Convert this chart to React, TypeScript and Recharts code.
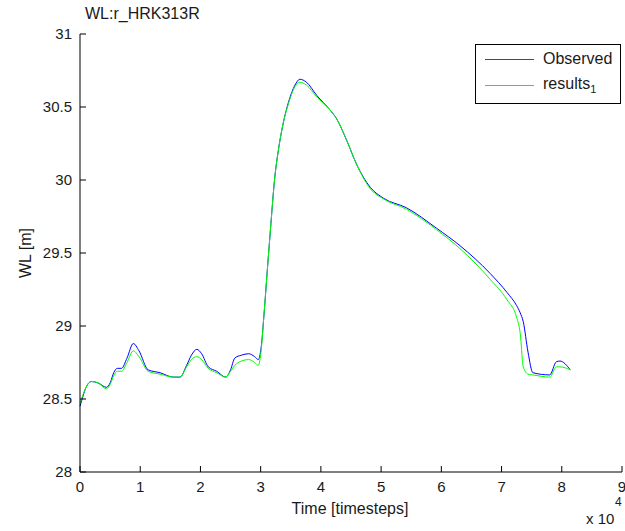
import { LineChart, Line, XAxis, YAxis } from 'recharts'

// time in timesteps (axis shows x 10^4)
const time = [
  0, 500, 1000, 1900, 3000, 4400, 5000, 5600, 6200, 6900, 7800, 8850, 9800, 11300, 13300, 15500,
  16600, 17700, 18500, 19400, 20200, 21300, 22700, 24200, 25000, 25700, 26800, 28000, 29000, 29600,
  30100, 30500, 31100, 31700, 32300, 33000, 33800, 34600, 35700, 36500, 37600, 39300, 41500, 42600,
  44300, 45900, 48200, 50400, 54200, 59200, 63100, 68100, 70900, 72500, 73100, 73600, 74400, 75200,
  78000, 79100, 79700, 81400,
]

const observed = [
  28.45, 28.52, 28.58, 28.62, 28.61, 28.58, 28.61, 28.68, 28.71, 28.71, 28.78, 28.88, 28.83, 28.7,
  28.68, 28.65, 28.65, 28.73, 28.8, 28.84, 28.81, 28.72, 28.69, 28.65, 28.7, 28.78, 28.8, 28.81,
  28.79, 28.77, 28.86, 29.05, 29.38, 29.7, 30.0, 30.22, 30.4, 30.53, 30.65, 30.69, 30.67, 30.58,
  30.48, 30.42, 30.27, 30.11, 29.95, 29.875, 29.81, 29.67, 29.55, 29.36, 29.23, 29.14, 29.09, 29.03,
  28.82, 28.68, 28.665, 28.755, 28.76, 28.7,
]

const results1 = [
  28.47, 28.53, 28.58, 28.62, 28.61, 28.57, 28.6, 28.66, 28.69, 28.69, 28.75, 28.83, 28.79, 28.69,
  28.67, 28.65, 28.65, 28.72, 28.77, 28.79, 28.77, 28.71, 28.68, 28.65, 28.69, 28.73, 28.76, 28.77,
  28.75, 28.73, 28.84, 29.05, 29.38, 29.7, 30.0, 30.22, 30.4, 30.52, 30.64, 30.67, 30.65, 30.57,
  30.48, 30.42, 30.27, 30.11, 29.94, 29.87, 29.8, 29.66, 29.53, 29.32, 29.18, 29.06, 28.95, 28.72,
  28.67, 28.665, 28.65, 28.72, 28.72, 28.7,
]

const xTicks = [0, 10000, 20000, 30000, 40000, 50000, 60000, 70000, 80000, 90000]
const yTicks = [28, 28.5, 29, 29.5, 30, 30.5, 31]

const data = time.map((t, i) => ({ t, observed: observed[i], results: results1[i] }))

const FONT = '"Liberation Sans", Arial, sans-serif'
const TEXT = '#1a1a1a'

function BottomTick({ x, y, payload }: any) {
  return (
    <g>
      <line x1={x} x2={x} y1={y} y2={y - 6} stroke="#000" />
      <text x={x} y={y + 20} textAnchor="middle" fontSize={15} fontFamily={FONT} fill={TEXT}>
        {payload.value / 10000}
      </text>
    </g>
  )
}

function TopTick({ x, y }: any) {
  return <line x1={x} x2={x} y1={y} y2={y + 6} stroke="#000" />
}

function LeftTick({ x, y, payload }: any) {
  return (
    <g>
      <line x1={x} x2={x + 6} y1={y} y2={y} stroke="#000" />
      <text x={x - 8} y={y + 5} textAnchor="end" fontSize={15} fontFamily={FONT} fill={TEXT}>
        {payload.value}
      </text>
    </g>
  )
}

function RightTick({ x, y }: any) {
  return <line x1={x} x2={x - 6} y1={y} y2={y} stroke="#000" />
}

export default function App() {
  return (
    <div style={{ position: 'absolute', left: 0, top: 0, width: 625, height: 531, background: '#fff' }}>
      <LineChart width={625} height={531} data={data} margin={{ top: 34, right: 3, left: 0, bottom: 29 }}>
        <XAxis
          dataKey="t"
          type="number"
          domain={[0, 90000]}
          ticks={xTicks}
          height={30}
          tickSize={0}
          tickMargin={0}
          tickLine={false}
          axisLine={{ stroke: '#000' }}
          tick={<BottomTick />}
          interval={0}
        />
        <XAxis
          xAxisId="top"
          orientation="top"
          dataKey="t"
          type="number"
          domain={[0, 90000]}
          ticks={xTicks}
          height={0}
          tickSize={0}
          tickMargin={0}
          tickLine={false}
          axisLine={{ stroke: '#000' }}
          tick={<TopTick />}
          interval={0}
        />
        <YAxis
          type="number"
          domain={[28, 31]}
          ticks={yTicks}
          width={80}
          tickSize={0}
          tickMargin={0}
          tickLine={false}
          axisLine={{ stroke: '#000' }}
          tick={<LeftTick />}
          interval={0}
        />
        <YAxis
          yAxisId="right"
          orientation="right"
          type="number"
          domain={[28, 31]}
          ticks={yTicks}
          width={0}
          tickSize={0}
          tickMargin={0}
          tickLine={false}
          axisLine={{ stroke: '#000' }}
          tick={<RightTick />}
          interval={0}
        />
        <Line
          dataKey="observed"
          name="Observed"
          type="monotone"
          stroke="#0000ff"
          strokeWidth={1}
          dot={false}
          isAnimationActive={false}
        />
        <Line
          dataKey="results"
          name="results1"
          type="monotone"
          stroke="#00ff00"
          strokeWidth={1}
          dot={false}
          isAnimationActive={false}
        />
        <text x={85} y={19} fontSize={16} fontFamily={FONT} fill={TEXT}>
          WL:r_HRK313R
        </text>
        <text x={350} y={514} textAnchor="middle" fontSize={16} fontFamily={FONT} fill={TEXT}>
          Time [timesteps]
        </text>
        <text
          x={25}
          y={253}
          textAnchor="middle"
          fontSize={16}
          fontFamily={FONT}
          fill={TEXT}
          transform="rotate(-90 25 253)"
          dominantBaseline="central"
        >
          WL [m]
        </text>
        <text x={586} y={524} fontSize={15} fontFamily={FONT} fill={TEXT}>
          x 10
        </text>
        <text x={615} y={506} fontSize={12} fontFamily={FONT} fill={TEXT}>
          4
        </text>
      </LineChart>
      <div
        style={{
          position: 'absolute',
          left: 475,
          top: 44,
          width: 144,
          height: 58,
          border: '1px solid #000',
          background: '#fff',
          fontFamily: FONT,
          fontSize: 16,
          color: TEXT,
        }}
      >
        <div style={{ position: 'absolute', left: 9, top: 14, width: 49, height: 1, background: '#3333ff' }} />
        <div style={{ position: 'absolute', left: 67, top: 5, lineHeight: '18px' }}>Observed</div>
        <div style={{ position: 'absolute', left: 9, top: 40, width: 49, height: 1, background: '#00ff00' }} />
        <div style={{ position: 'absolute', left: 67, top: 30, lineHeight: '18px' }}>
          results<sub style={{ fontSize: 11, verticalAlign: -4 }}>1</sub>
        </div>
      </div>
    </div>
  )
}
